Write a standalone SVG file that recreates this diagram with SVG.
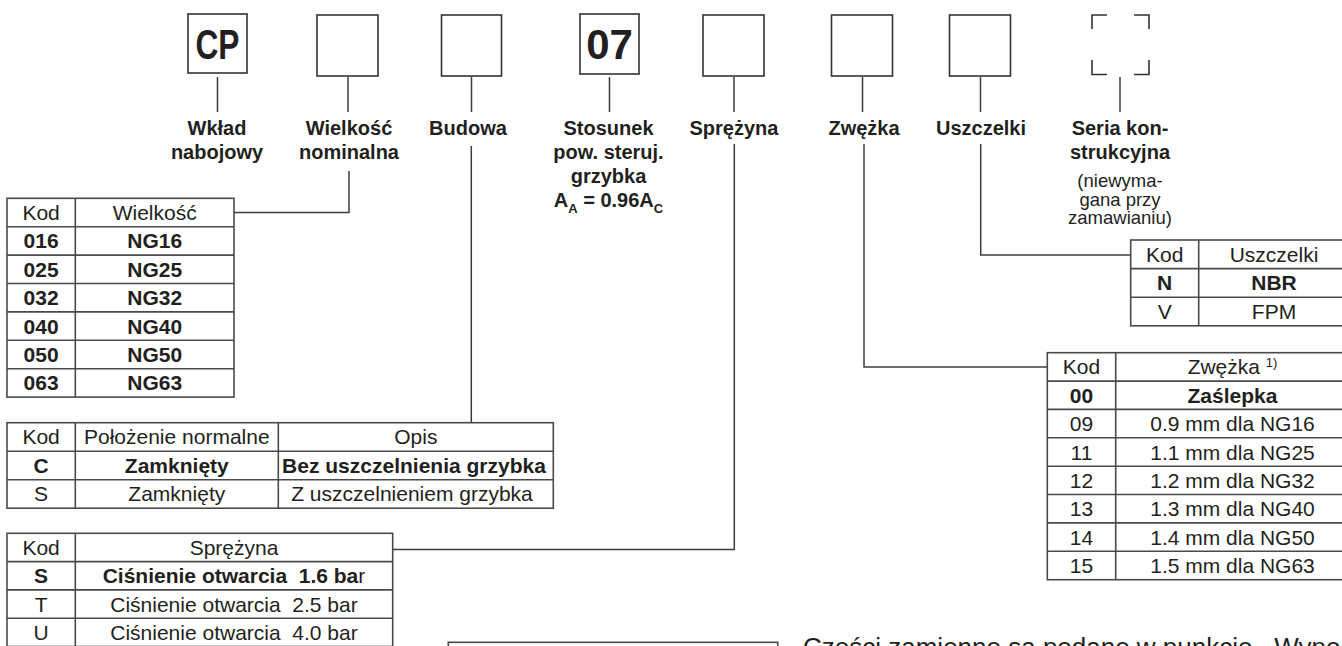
<svg xmlns="http://www.w3.org/2000/svg" width="1342" height="646" viewBox="0 0 1342 646">
<style>
.bx{fill:none;stroke:#333;stroke-width:1.6}
.tb{fill:none;stroke:#4a4a4a;stroke-width:1.6}
.ln{fill:none;stroke:#3c3c3c;stroke-width:1.5}
text{font-family:"Liberation Sans",Arial,sans-serif;fill:#231f20}
.lb{font-size:20px;font-weight:bold;text-anchor:middle}
.sm{font-size:18.5px;text-anchor:middle}
.t{font-size:21px;text-anchor:middle}
.tbd{font-size:21px;font-weight:bold;text-anchor:middle}
.big{font-size:42px;font-weight:bold;text-anchor:middle}
</style>
<rect width="1342" height="646" fill="#fff"/>

<g id="connectors">
<path class="ln" d="M217.5,77V112M348,77V112M471.5,77V112M609.5,77V112M734,77V112M862.5,77V112M980.5,77V112M1120,77V112"/>
<path class="ln" d="M349,171V212.5H234"/>
<path class="ln" d="M471.3,146V422.7"/>
<path class="ln" d="M734.3,144V549.5H392.7"/>
<path class="ln" d="M864,144V367H1047.3"/>
<path class="ln" d="M980.7,144V255H1130.7"/>
</g>

<g id="box-cp">
<rect class="bx" x="188" y="14" width="59" height="59"/>
<text class="big" x="217.5" y="58.5" textLength="44" lengthAdjust="spacingAndGlyphs">CP</text>
</g>
<g id="box-wielkosc"><rect class="bx" x="317" y="15" width="61" height="61"/></g>
<g id="box-budowa"><rect class="bx" x="441.5" y="15" width="60" height="61"/></g>
<g id="box-07">
<rect class="bx" x="580" y="14" width="59" height="60"/>
<text class="big" x="609.5" y="58.5">07</text>
</g>
<g id="box-sprezyna"><rect class="bx" x="703" y="15" width="61" height="61"/></g>
<g id="box-zwezka"><rect class="bx" x="831.5" y="15" width="61" height="61"/></g>
<g id="box-uszczelki"><rect class="bx" x="949.5" y="15" width="61" height="61"/></g>
<g id="box-seria">
<path class="bx" d="M1092,29V15H1107M1134,15H1149V29M1092,60V74.5H1107M1134,74.5H1149V60"/>
</g>

<g id="labels">
<text class="lb" x="217" y="135">Wkład</text>
<text class="lb" x="217" y="159">nabojowy</text>
<text class="lb" x="349" y="135">Wielkość</text>
<text class="lb" x="349" y="159">nominalna</text>
<text class="lb" x="468" y="135">Budowa</text>
<text class="lb" x="608.5" y="135">Stosunek</text>
<text class="lb" x="608.5" y="159">pow. steruj.</text>
<text class="lb" x="608.5" y="183">grzybka</text>
<text class="lb" x="608.5" y="207">A<tspan font-size="13" dy="6">A</tspan><tspan dy="-6"> = 0.96A</tspan><tspan font-size="13" dy="6">C</tspan></text>
<text class="lb" x="734" y="135">Sprężyna</text>
<text class="lb" x="864" y="135">Zwężka</text>
<text class="lb" x="981" y="135">Uszczelki</text>
<text class="lb" x="1120" y="135">Seria kon-</text>
<text class="lb" x="1120" y="159">strukcyjna</text>
<text class="sm" x="1120" y="187">(niewyma-</text>
<text class="sm" x="1120" y="205.5">gana przy</text>
<text class="sm" x="1120" y="224">zamawianiu)</text>
</g>

<g id="table-wielkosc">
<rect class="tb" x="7" y="198.3" width="227" height="198.8"/>
<path class="tb" d="M75.3,198.3V397.1M7,226.7H234M7,255.1H234M7,283.5H234M7,311.9H234M7,340.3H234M7,368.7H234"/>
<text class="t" x="41.1" y="220">Kod</text><text class="t" x="154.7" y="220">Wielkość</text>
<text class="tbd" x="41.1" y="248.4">016</text><text class="tbd" x="154.7" y="248.4">NG16</text>
<text class="tbd" x="41.1" y="276.8">025</text><text class="tbd" x="154.7" y="276.8">NG25</text>
<text class="tbd" x="41.1" y="305.2">032</text><text class="tbd" x="154.7" y="305.2">NG32</text>
<text class="tbd" x="41.1" y="333.6">040</text><text class="tbd" x="154.7" y="333.6">NG40</text>
<text class="tbd" x="41.1" y="362">050</text><text class="tbd" x="154.7" y="362">NG50</text>
<text class="tbd" x="41.1" y="390.4">063</text><text class="tbd" x="154.7" y="390.4">NG63</text>
</g>

<g id="table-budowa">
<rect class="tb" x="7" y="422.7" width="546.3" height="85.5"/>
<path class="tb" d="M75.3,422.7V508.2M278.3,422.7V508.2M7,451.2H553.3M7,479.7H553.3"/>
<text class="t" x="41.1" y="444.4">Kod</text><text class="t" x="176.8" y="444.4">Położenie normalne</text><text class="t" x="415.8" y="444.4">Opis</text>
<text class="tbd" x="41.1" y="472.9">C</text><text class="tbd" x="176.8" y="472.9">Zamknięty</text><text class="tbd" x="414" y="472.9">Bez uszczelnienia grzybka</text>
<text class="t" x="41.1" y="501.4">S</text><text class="t" x="176.8" y="501.4">Zamknięty</text><text class="t" x="412" y="501.4">Z uszczelnieniem grzybka</text>
</g>

<g id="table-sprezyna">
<rect class="tb" x="7" y="533.3" width="385.7" height="113.2"/>
<path class="tb" d="M75.3,533.3V646.5M7,561.6H392.7M7,589.9H392.7M7,618.2H392.7"/>
<text class="t" x="41.1" y="555">Kod</text><text class="t" x="234" y="555">Sprężyna</text>
<text class="tbd" x="41.1" y="583.3">S</text><text class="tbd" x="234" y="583.3">Ciśnienie otwarcia&#160; 1.6 ba<tspan font-weight="normal">r</tspan></text>
<text class="t" x="41.1" y="611.6">T</text><text class="t" x="234" y="611.6">Ciśnienie otwarcia&#160; 2.5 bar</text>
<text class="t" x="41.1" y="639.9">U</text><text class="t" x="234" y="639.9">Ciśnienie otwarcia&#160; 4.0 bar</text>
</g>

<g id="table-uszczelki">
<rect class="tb" x="1130.7" y="240" width="218.3" height="85.8"/>
<path class="tb" d="M1198.7,240V325.8M1130.7,268.6H1349M1130.7,297.2H1349"/>
<text class="t" x="1164.7" y="261.8">Kod</text><text class="t" x="1274" y="261.8">Uszczelki</text>
<text class="tbd" x="1164.7" y="290.4">N</text><text class="tbd" x="1274" y="290.4">NBR</text>
<text class="t" x="1164.7" y="319">V</text><text class="t" x="1274" y="319">FPM</text>
</g>

<g id="table-zwezka">
<rect class="tb" x="1047.3" y="352.7" width="301.7" height="227"/>
<path class="tb" d="M1115.7,352.7V579.7M1047.3,381.1H1349M1047.3,409.4H1349M1047.3,437.8H1349M1047.3,466.2H1349M1047.3,494.5H1349M1047.3,522.9H1349M1047.3,551.3H1349"/>
<text class="t" x="1081.5" y="374.4">Kod</text><text class="t" x="1232.5" y="374.4">Zwężka <tspan font-size="13" dy="-7">1)</tspan></text>
<text class="tbd" x="1081.5" y="402.8">00</text><text class="tbd" x="1232.5" y="402.8">Zaślepka</text>
<text class="t" x="1081.5" y="431.1">09</text><text class="t" x="1232.5" y="431.1">0.9 mm dla NG16</text>
<text class="t" x="1081.5" y="459.5">11</text><text class="t" x="1232.5" y="459.5">1.1 mm dla NG25</text>
<text class="t" x="1081.5" y="487.9">12</text><text class="t" x="1232.5" y="487.9">1.2 mm dla NG32</text>
<text class="t" x="1081.5" y="516.2">13</text><text class="t" x="1232.5" y="516.2">1.3 mm dla NG40</text>
<text class="t" x="1081.5" y="544.6">14</text><text class="t" x="1232.5" y="544.6">1.4 mm dla NG50</text>
<text class="t" x="1081.5" y="573">15</text><text class="t" x="1232.5" y="573">1.5 mm dla NG63</text>
</g>

<g id="bottom-box"><rect class="tb" x="448.3" y="642.3" width="329.4" height="30"/></g>
<g id="bottom-note">
<text x="803" y="655.5" font-size="26" fill="#333">Części zamienne są podane w punkcie . Wypo</text>
</g>
</svg>
